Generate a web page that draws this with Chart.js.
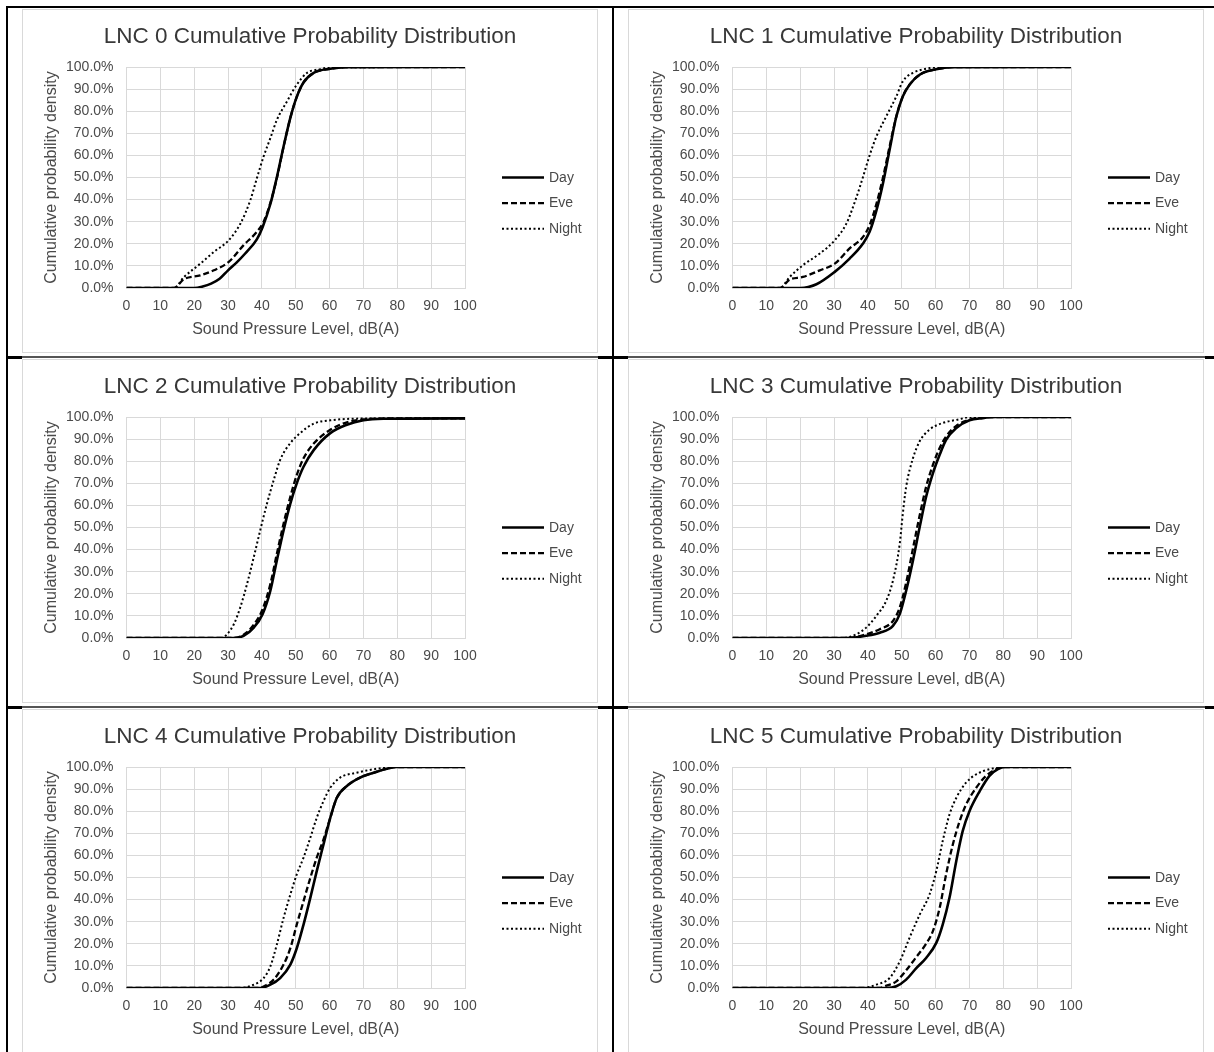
<!DOCTYPE html>
<html>
<head>
<meta charset="utf-8">
<script src="https://cdn.jsdelivr.net/npm/chart.js@4.4.1/dist/chart.umd.min.js"></script>
<style>
  html, body { margin: 0; padding: 0; background: #fff; }
  body { width: 1214px; height: 1052px; position: relative; overflow: hidden; }
  .ln { position: absolute; background: #000; }
  .lnsoft { position: absolute; background: #555; }
  .cell { position: absolute; width: 576px; height: 344px; background: #fff; }
  .cell canvas { position: absolute; left: 0; top: 0; }
  .frame { position: absolute; left: 0; top: 0; width: 576px; height: 344px; box-sizing: border-box; border: 1px solid #d9d9d9; pointer-events: none; }
</style>
</head>
<body>
<div class="lnsoft" style="left:6px;top:356px;width:1208px;height:2px;"></div>
<div class="lnsoft" style="left:6px;top:706px;width:1208px;height:2px;"></div>
<div class="ln" style="left:6px;top:6px;width:1208px;height:2px;"></div>
<div class="ln" style="left:6px;top:6px;width:2px;height:1046px;"></div>
<div class="ln" style="left:612px;top:6px;width:2px;height:1046px;"></div>
<div class="ln" style="left:6px;top:356px;width:16px;height:3px;"></div>
<div class="ln" style="left:598px;top:356px;width:30px;height:3px;"></div>
<div class="ln" style="left:1205px;top:356px;width:9px;height:3px;"></div>
<div class="ln" style="left:6px;top:706px;width:16px;height:3px;"></div>
<div class="ln" style="left:598px;top:706px;width:30px;height:3px;"></div>
<div class="ln" style="left:1205px;top:706px;width:9px;height:3px;"></div>

<div class="cell" style="left:22px;top:9px;"><canvas id="c0" width="576" height="344"></canvas><div class="frame"></div></div>
<div class="cell" style="left:628px;top:9px;"><canvas id="c1" width="576" height="344"></canvas><div class="frame"></div></div>
<div class="cell" style="left:22px;top:359px;"><canvas id="c2" width="576" height="344"></canvas><div class="frame"></div></div>
<div class="cell" style="left:628px;top:359px;"><canvas id="c3" width="576" height="344"></canvas><div class="frame"></div></div>
<div class="cell" style="left:22px;top:709px;"><canvas id="c4" width="576" height="344"></canvas><div class="frame"></div></div>
<div class="cell" style="left:628px;top:709px;"><canvas id="c5" width="576" height="344"></canvas><div class="frame"></div></div>

<script>
// ---- Data: [sound pressure level dB(A), cumulative %] ----
const TITLES = [
  'LNC 0 Cumulative Probability Distribution',
  'LNC 1 Cumulative Probability Distribution',
  'LNC 2 Cumulative Probability Distribution',
  'LNC 3 Cumulative Probability Distribution',
  'LNC 4 Cumulative Probability Distribution',
  'LNC 5 Cumulative Probability Distribution'
];
const SERIES_LABELS = ['Day', 'Eve', 'Night'];
const X_TICKS = [0, 10, 20, 30, 40, 50, 60, 70, 80, 90, 100];
const Y_TICKS = [0, 10, 20, 30, 40, 50, 60, 70, 80, 90, 100];
const X_TITLE = 'Sound Pressure Level, dB(A)';
const Y_TITLE = 'Cumulative probability density';

const LNC0_DAY = [[0,0],[20,0],[22.5,0.7],[25,2],[27.5,4.2],[30,8],[32.5,11.5],[35,15.5],[38.5,22],[40.2,27.5],[42.5,38],[44.4,50],[46.4,64],[48.4,77],[50.3,86.5],[52.3,93],[55.3,97.3],[60.2,99.2],[65,99.9],[100,100]];
const LNC0_EVE = [[0,0],[14,0],[17,4],[21.8,5.7],[25.8,8],[30.2,11.8],[34.6,19.4],[38.5,25.4],[40.5,30],[42.5,38.5],[44.4,49.5],[46.2,62.5],[48.4,77],[50.3,86.5],[52.3,93],[55.3,97.3],[60.2,99.2],[65,99.9],[100,100]];
const LNC0_NIGHT = [[0,0],[14,0],[17,5],[21.8,11],[25.8,16.3],[30.2,21.6],[33.6,29],[36.6,39.8],[38.5,49.6],[40.5,59.5],[42.5,67.8],[44.4,76],[47.4,84.4],[50.3,92],[53.3,97.3],[57.2,99],[60.2,99.8],[100,100]];

const LNC1_DAY = [[0,0],[20,0],[24.8,1.7],[30.2,7.3],[34.6,13.3],[38.5,20],[40.5,25.4],[42.5,35],[44.4,47],[46.4,62.5],[48.4,77.6],[50.3,86.7],[52.3,92],[55.3,96.5],[60.2,99],[65,99.9],[100,100]];
const LNC1_EVE = [[0,0],[14,0],[16.9,3.8],[20.8,5],[25.8,8],[30.2,11],[34.6,17.9],[38.5,23],[40.5,28.4],[42.5,38],[44.4,49.6],[46.4,64],[48.4,77.6],[50.3,86.7],[52.3,92],[55.3,96.5],[60.2,99],[65,99.9],[100,100]];
const LNC1_NIGHT = [[0,0],[14,0],[16.9,5],[20.8,10.3],[25.8,15.6],[30.2,21.6],[33.6,29],[36.6,41],[38.5,50],[40.5,60],[42.5,68.5],[45.4,77.6],[48.4,86.7],[50.3,93.5],[53.3,97.3],[58.2,99.5],[62,100],[100,100]];

const LNC2_DAY = [[0,0],[31.5,0],[34.6,1],[37.6,4.7],[40.2,10.8],[42.5,21.4],[44.4,35],[46.4,48.7],[48.4,60.8],[50.3,70],[52.3,77.5],[55.3,85],[60.2,92.7],[65.1,96.5],[70,98.5],[75.9,99.2],[100,99.4]];
const LNC2_EVE = [[0,0],[31.5,0],[34.6,1.5],[37.6,6],[40.2,13],[42.5,24.4],[44.4,38],[46.4,51.7],[48.4,63.9],[50.3,73.7],[52.3,81.3],[55.3,88],[60.2,94.2],[65.1,97.6],[70,98.9],[75,99.3],[100,99.4]];
const LNC2_NIGHT = [[0,0],[28,0],[29.7,1.7],[31.7,6.2],[33.6,13.8],[35.6,24.4],[37.6,36.6],[39.5,48.7],[41.5,60.8],[43.5,71.5],[45.4,80.6],[48.4,88.2],[51.3,92.7],[55.3,97],[60.2,98.5],[70,99.3],[100,99.4]];

const LNC3_DAY = [[0,0],[33.6,0],[39.5,1],[43.5,2.4],[47.4,5.5],[49.4,10.8],[51.3,21.4],[53.3,35],[55.3,50.2],[57.2,63.9],[59.2,74.5],[61.2,82.9],[63.1,89.7],[66.1,95],[70,98.5],[73.9,99.5],[78,100],[100,100]];
const LNC3_EVE = [[0,0],[34,0],[39.5,1.7],[43.5,4],[47.4,7.7],[49.4,13.8],[51.3,25],[53.3,40.4],[55.3,55.5],[57.2,68.4],[59.2,78.3],[61.2,86],[63.1,91.2],[66.1,96],[70,98.8],[75,100],[100,100]];
const LNC3_NIGHT = [[0,0],[32.6,0],[36.6,1.7],[39.5,4.7],[42.5,10],[45.4,16.8],[47.4,26],[49.4,42.6],[50.3,56],[51.3,68.4],[53.3,81.3],[55.3,89],[58.2,94.3],[62.1,97.3],[67.1,99],[70,100],[100,100]];

const LNC4_DAY = [[0,0],[39.5,0],[42.5,1.5],[45.4,4.5],[48.4,10.6],[50.3,18],[52.3,28.7],[54.3,40.8],[56.2,52.9],[58.2,65],[60.2,77],[62.1,86],[65.1,91.4],[69,95.2],[73,97.4],[76.9,99.2],[80,100],[100,100]];
const LNC4_EVE = [[0,0],[39,0],[41.5,1.5],[43.5,3.8],[46.4,10.6],[48.4,18],[50.3,28.7],[52.3,39.3],[54.3,49.8],[56.2,59],[58.2,67.2],[60.2,77],[62.1,86],[65.1,91.4],[69,95.2],[73,97.4],[76.9,99.2],[80,100],[100,100]];
const LNC4_NIGHT = [[0,0],[33.6,0],[37.6,1.5],[40.5,4.5],[42.5,9.8],[44.4,19.6],[46.4,31.7],[48.4,42.3],[50.3,51.4],[52.3,59],[54.3,68],[56.2,77],[58.2,84.6],[60.2,90.6],[63.1,95.2],[68,97.4],[73.9,99.2],[80,100],[100,100]];

const LNC5_DAY = [[0,0],[45.4,0],[48.4,0.8],[51.3,3.8],[54.3,9],[57.2,13.6],[60.2,20.4],[62.1,28.7],[64.1,40.8],[66.1,57.4],[68,71],[70,80],[73,89],[75.9,96],[78.4,99],[80.5,100],[100,100]];
const LNC5_EVE = [[0,0],[43.5,0],[45,0.8],[48.4,3],[51.3,8],[54.3,14],[57.2,20],[59.2,25.7],[61.2,36.3],[63.1,51.4],[65.1,65],[67.1,75.5],[69,83],[72,90.6],[74.9,96],[77.9,99],[80,100],[100,100]];
const LNC5_NIGHT = [[0,0],[38.5,0],[42.5,1.5],[46.4,4.5],[49.4,12],[52.3,22.7],[55.3,33.2],[58.2,42.3],[60.2,52.9],[62.1,66.5],[64.1,78.5],[66.1,86],[69,92.9],[72,96.7],[75.9,99],[80,100],[100,100]];

const PANELS = [
  [LNC0_DAY, LNC0_EVE, LNC0_NIGHT],
  [LNC1_DAY, LNC1_EVE, LNC1_NIGHT],
  [LNC2_DAY, LNC2_EVE, LNC2_NIGHT],
  [LNC3_DAY, LNC3_EVE, LNC3_NIGHT],
  [LNC4_DAY, LNC4_EVE, LNC4_NIGHT],
  [LNC5_DAY, LNC5_EVE, LNC5_NIGHT]
];

// ---- Styles ----
const FONT = "'Liberation Sans', Arial, sans-serif";
const TEXT = '#4a4a4a';
const GRID = '#d9d9d9';
const STYLES = [
  { borderWidth: 2.6, borderDash: [] },
  { borderWidth: 2.3, borderDash: [6, 3] },
  { borderWidth: 2, borderDash: [2, 2.5] }
];
const PAD_LEFT = 16.4, PAD_BOTTOM = 9.4, PAD_TOP = 4, PAD_RIGHT = 16.4;
const PLOT_LEFT = 104.5, PLOT_BOTTOM = 279, PLOT_RIGHT = 443;

const sideLegend = {
  id: 'sideLegend',
  afterDraw(chart) {
    const ctx = chart.ctx;
    const ca = chart.chartArea;
    const yc = (ca.top + ca.bottom) / 2;
    const x0 = ca.right + 37, x1 = ca.right + 79;
    chart.data.datasets.forEach((ds, i) => {
      const y = yc + i * 25.6;
      ctx.save();
      ctx.strokeStyle = ds.borderColor;
      ctx.lineWidth = ds.borderWidth;
      ctx.setLineDash(ds.borderDash || []);
      ctx.beginPath();
      ctx.moveTo(x0, y);
      ctx.lineTo(x1, y);
      ctx.stroke();
      ctx.setLineDash([]);
      ctx.fillStyle = TEXT;
      ctx.font = '14px ' + FONT;
      ctx.textBaseline = 'middle';
      ctx.textAlign = 'left';
      ctx.fillText(ds.label, x1 + 5, y + 0.5);
      ctx.restore();
    });
  }
};

function makeChart(id, title, series) {
  const canvas = document.getElementById(id);
  const H = canvas.height, W = canvas.width;
  return new Chart(canvas, {
    type: 'line',
    data: {
      datasets: series.map((pts, i) => ({
        label: SERIES_LABELS[i],
        data: pts.map(p => ({ x: p[0], y: p[1] })),
        borderColor: '#000',
        borderWidth: STYLES[i].borderWidth,
        borderDash: STYLES[i].borderDash,
        pointRadius: 0,
        fill: false,
        cubicInterpolationMode: 'monotone',
        borderCapStyle: 'butt',
        yAxisID: 'y'
      }))
    },
    options: {
      responsive: false,
      animation: false,
      events: [],
      layout: { padding: { left: PAD_LEFT, right: PAD_RIGHT, top: PAD_TOP, bottom: PAD_BOTTOM } },
      plugins: {
        legend: { display: false },
        tooltip: { enabled: false },
        title: {
          display: true,
          text: title,
          color: '#383838',
          font: { family: FONT, size: 22.5, weight: 'normal' },
          padding: { top: 10.5, bottom: 16.5 }
        }
      },
      scales: {
        x: {
          type: 'linear',
          min: 0, max: 100,
          afterBuildTicks: s => { s.ticks = X_TICKS.map(v => ({ value: v })); },
          ticks: { color: TEXT, font: { family: FONT, size: 14 }, padding: 10, maxRotation: 0 },
          grid: { color: GRID, lineWidth: 1, drawTicks: false },
          border: { color: GRID },
          title: { display: true, text: X_TITLE, color: TEXT, font: { family: FONT, size: 16 }, padding: { top: 4, bottom: 4 } },
          afterFit: s => { s.height = H - PAD_BOTTOM - PLOT_BOTTOM; }
        },
        y: {
          min: 0, max: 100,
          afterBuildTicks: s => { s.ticks = Y_TICKS.map(v => ({ value: v })); },
          ticks: { color: TEXT, font: { family: FONT, size: 14 }, padding: 13, callback: v => v.toFixed(1) + '%' },
          grid: { color: GRID, lineWidth: 1, drawTicks: false },
          border: { color: GRID },
          title: { display: true, text: Y_TITLE, color: TEXT, font: { family: FONT, size: 16 }, padding: { top: 4, bottom: 4 } },
          afterFit: s => { s.width = PLOT_LEFT - PAD_LEFT; }
        },
        legendSpace: {
          type: 'linear',
          position: 'right',
          display: true,
          min: 0, max: 1,
          grid: { display: false, drawTicks: false },
          border: { display: false },
          ticks: { display: false },
          afterFit: s => { s.width = W - PAD_RIGHT - PLOT_RIGHT; }
        }
      }
    },
    plugins: [sideLegend]
  });
}

PANELS.forEach((series, i) => makeChart('c' + i, TITLES[i], series));
</script>
</body>
</html>
